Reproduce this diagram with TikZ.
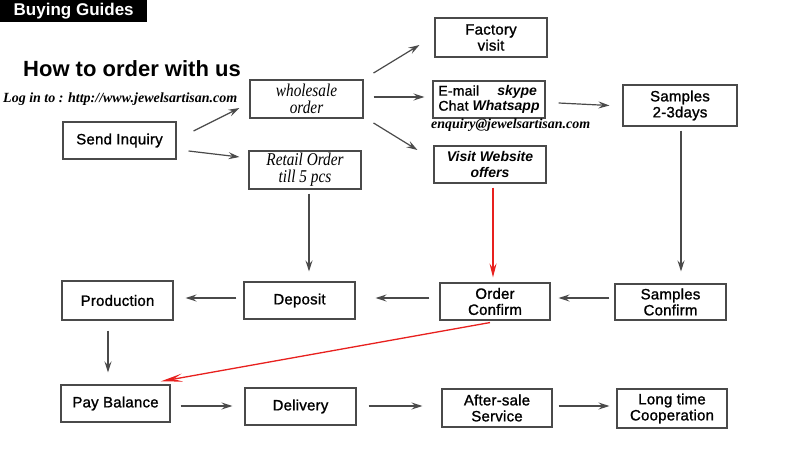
\documentclass[tikz,border=0pt]{standalone}
\usepackage{fontspec}
\setmainfont{Liberation Sans}
\newfontfamily\boxfont[FakeBold=1.2,LetterSpace=1.5]{Liberation Sans}
\newfontfamily\serifit{Liberation Serif}
\newfontfamily\condserif[FakeStretch=0.85]{Liberation Serif}
\usetikzlibrary{arrows.meta,calc}
\definecolor{linegray}{HTML}{4A4A4A}
\definecolor{arrred}{HTML}{E8201E}
\tikzset{
  box/.style={draw=linegray, line width=1.1pt, inner sep=0pt, align=center,
    font=\boxfont\fontsize{15}{16}\selectfont},
  flow/.style={draw=linegray, line width=1.2pt, -{Stealth[length=11pt,width=7pt,inset=4pt]}},
  redflow/.style={draw=arrred, line width=1.3pt, -{Stealth[length=14pt,width=7pt,inset=5pt]}},
  longred/.style={draw=arrred, line width=1.3pt, -{Stealth[length=22pt,width=8pt,inset=9pt]}},
}
\begin{document}
\begin{tikzpicture}[x=1pt,y=-1pt]
\useasboundingbox (0,0) rectangle (800,450);
\fill[white] (0,0) rectangle (800,450);
% header
\node[fill=black, text=white, inner sep=0pt, minimum width=147pt, minimum height=22pt,
  font=\fontsize{17}{18}\selectfont\bfseries, anchor=north west] (bg) at (0,0) {Buying Guides};
\node[font=\fontsize{22}{24}\selectfont\bfseries, anchor=west, inner sep=0pt] (title) at (23,69) {How to order with us};
\node[font=\serifit\fontsize{14}{15}\selectfont\bfseries\itshape, anchor=west, inner sep=0pt] (login) at (3,99) {Log in to : http://www.jewelsartisan.com};
% boxes
\node[box, minimum width=113pt, minimum height=37pt] (SI) at (119.5,140.5) {Send Inquiry};
\node[box, minimum width=113pt, minimum height=38pt, font=\condserif\fontsize{18}{17}\selectfont\itshape] (WO) at (306.5,99) {wholesale\\order};
\node[box, minimum width=112pt, minimum height=38pt, font=\condserif\fontsize{18}{17}\selectfont\itshape] (RO) at (305,170) {Retail Order\\till 5 pcs};
\node[box, minimum width=112pt, minimum height=39pt] (FV) at (491,37.5) {Factory\\visit};
\node[box, minimum width=112pt, minimum height=37pt, align=left, font=\boxfont\fontsize{14}{16}\selectfont] (EM) at (489,99.5)
  {E-mail\hspace{1.3em}{\normalfont\bfseries\itshape skype}\\[-1pt]Chat {\normalfont\bfseries\itshape Whatsapp}};
\node[font=\serifit\fontsize{14}{15}\selectfont\bfseries\itshape, anchor=west, inner sep=0pt] (mail) at (431,125) {enquiry@jewelsartisan.com};
\node[box, minimum width=112pt, minimum height=37pt, font=\fontsize{14}{16}\selectfont\bfseries\itshape] (VW) at (490,164.5) {Visit Website\\offers};
\node[box, minimum width=114pt, minimum height=41pt] (S23) at (680,105.5) {Samples\\2-3days};
\node[box, minimum width=111pt, minimum height=36pt] (SC) at (670.5,302) {Samples\\Confirm};
\node[box, minimum width=110pt, minimum height=37pt] (OC) at (495,301.5) {Order\\Confirm};
\node[box, minimum width=111pt, minimum height=37pt] (DP) at (299.5,300.5) {Deposit};
\node[box, minimum width=111pt, minimum height=39pt] (PR) at (117.5,300.5) {Production};
\node[box, minimum width=109pt, minimum height=37pt] (PB) at (115.5,403.5) {Pay Balance};
\node[box, minimum width=111pt, minimum height=37pt] (DL) at (300.5,406.5) {Delivery};
\node[box, minimum width=110pt, minimum height=38pt] (AS) at (497,408) {After-sale\\Service};
\node[box, minimum width=110pt, minimum height=39pt] (LT) at (672,408.5) {Long time\\Cooperation};
% connectors
\draw[flow] ($(SI.east)+(17,-9.5)$) -- ($(WO.west)+(-10,9)$);
\draw[flow] ($(SI.east)+(12,10.5)$) -- ($(RO.west)+(-9,-13)$);
\draw[flow] ($(WO.east)+(10,-26)$) -- ($(FV.west)+(-15,7.5)$);
\draw[flow] ($(WO.east)+(10,-2)$) -- ($(EM.west)+(-8,-2.5)$);
\draw[flow] ($(WO.east)+(10,24)$) -- ($(VW.west)+(-16,-14.5)$);
\draw[flow] ($(EM.east)+(13,3.5)$) -- ($(S23.west)+(-13,0)$);
\draw[flow] ($(S23.south)+(1,4)$) -- ($(SC.north)+(10.5,-12)$);
\draw[flow] ($(RO.south)+(4,4)$) -- ($(DP.north)+(9.5,-10)$);
\draw[redflow] ($(VW.south)+(3,4)$) -- ($(OC.north)+(-2,-5)$);
\draw[flow] ($(SC.west)+(-5,-4)$) -- ($(OC.east)+(8,-3.5)$);
\draw[flow] ($(OC.west)+(-10,-3.5)$) -- ($(DP.east)+(20,-2.5)$);
\draw[flow] ($(DP.west)+(-7,-2.5)$) -- ($(PR.east)+(12,-2.5)$);
\draw[flow] ($(PR.south)+(-9.5,10)$) -- ($(PB.north)+(-7.5,-12)$);
\draw[longred] ($(OC.south)+(-5,2)$) -- ($(PB.north east)+(-10,-3)$);
\draw[flow] ($(PB.east)+(10,2.5)$) -- ($(DL.west)+(-12,-0.5)$);
\draw[flow] ($(DL.east)+(12,-0.5)$) -- ($(AS.west)+(-19,-2)$);
\draw[flow] ($(AS.east)+(6,-2)$) -- ($(LT.west)+(-7,-2.5)$);
\end{tikzpicture}
\end{document}
